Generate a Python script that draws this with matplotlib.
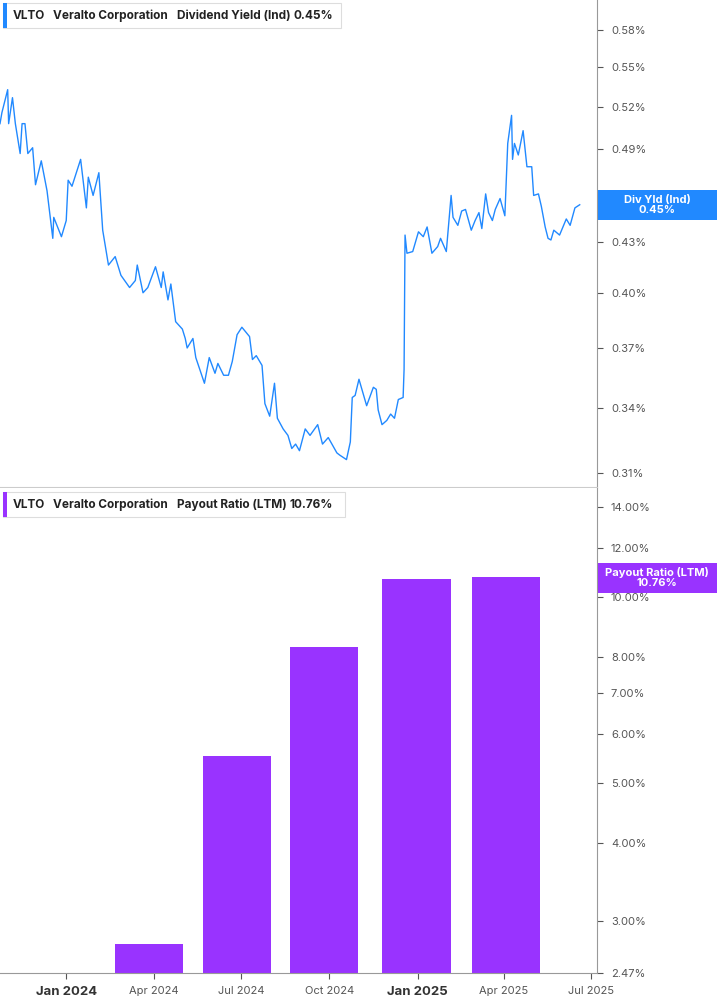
import matplotlib
matplotlib.use("Agg")
import matplotlib.pyplot as plt
import matplotlib.dates as mdates
import matplotlib.ticker as mticker
import pandas as pd
import numpy as np

# Dividend yield (%) ; dates as day offsets from 2024-01-01
DAY_OFFSETS = [-69,-67,-61,-60,-56,-53,-48,-46,-43,-40,-35,-32,-26,-20,-14,-13,-5,0,2,6,15,21,23,28,34,38,44,51,57,66,72,74,80,85,93,99,101,106,109,114,121,124,126,132,135,144,149,155,158,164,169,173,178,183,191,194,198,204,207,212,217,220,226,231,235,239,243,249,254,262,267,273,282,285,292,296,298,301,305,313,320,323,325,329,334,338,342,346,351,352,353,355,361,367,372,376,381,387,390,396,401,403,408,412,416,422,426,430,433,437,440,444,447,452,457,460,464,465,467,471,476,480,485,487,492,495,499,502,505,508,514,521,525,530,535]
DIV_YIELD = [0.508,0.516,0.533,0.508,0.527,0.508,0.487,0.508,0.508,0.487,0.491,0.466,0.482,0.462,0.432,0.445,0.433,0.443,0.469,0.465,0.483,0.451,0.471,0.459,0.474,0.437,0.416,0.421,0.410,0.403,0.407,0.416,0.400,0.403,0.415,0.403,0.412,0.396,0.405,0.384,0.380,0.375,0.370,0.375,0.365,0.352,0.365,0.357,0.362,0.356,0.356,0.363,0.377,0.381,0.376,0.364,0.366,0.361,0.342,0.336,0.352,0.335,0.330,0.327,0.321,0.323,0.320,0.330,0.327,0.332,0.323,0.326,0.319,0.318,0.316,0.324,0.345,0.346,0.354,0.341,0.350,0.349,0.339,0.332,0.334,0.337,0.335,0.344,0.345,0.359,0.434,0.423,0.424,0.436,0.433,0.439,0.423,0.427,0.432,0.424,0.459,0.445,0.440,0.449,0.450,0.437,0.443,0.448,0.438,0.460,0.448,0.443,0.450,0.457,0.446,0.494,0.514,0.483,0.494,0.486,0.503,0.478,0.478,0.459,0.460,0.452,0.439,0.432,0.431,0.437,0.434,0.444,0.440,0.451,0.453]

BAR_DATES = ["2024-03-27","2024-06-27","2024-09-26","2024-12-31","2025-04-03"]
PAYOUT = [2.75, 5.54, 8.30, 10.69, 10.76]

YIELD_TICKS = [0.31,0.34,0.37,0.40,0.43,0.49,0.52,0.55,0.58]
PAYOUT_TICKS = [2.47,3.0,4.0,5.0,6.0,7.0,8.0,10.0,12.0,14.0]
X_TICKS = ["2024-01-01","2024-04-01","2024-07-01","2024-10-01","2025-01-01","2025-04-01","2025-07-01"]
X_LABELS = ["Jan 2024","Apr 2024","Jul 2024","Oct 2024","Jan 2025","Apr 2025","Jul 2025"]

plt.rcParams["font.family"] = "Inter"
BLUE = "#2189ff"
PURPLE = "#9933ff"
GRAY = "#555555"

W, H = 717, 1005
fig = plt.figure(figsize=(W/100, H/100), dpi=100)
axR = 597
ax1 = fig.add_axes([0, 1-487/H, axR/W, 487/H])
ax2 = fig.add_axes([0, 1-973/H, axR/W, (973-488)/H])

dates = pd.Timestamp("2024-01-01") + pd.to_timedelta(DAY_OFFSETS, unit="D")
xmin = pd.Timestamp("2023-10-24"); xmax = pd.Timestamp("2025-07-07")

ax1.plot(dates, DIV_YIELD, color=BLUE, lw=1.0)
ax1.set_yscale("log")
ax1.set_ylim(0.304, 0.605)
for ax in (ax1, ax2):
    ax.set_xlim(xmin, xmax)
    ax.yaxis.tick_right()
    for s in ["top", "left"]:
        ax.spines[s].set_visible(False)
    ax.spines["right"].set_color("#999999")
    ax.tick_params(axis="y", which="both", labelsize=8, colors=GRAY, length=4, pad=6)
    ax.yaxis.set_minor_locator(mticker.NullLocator())
ax1.spines["bottom"].set_color("#cccccc")
ax1.set_yticks(YIELD_TICKS)
ax1.set_yticklabels([f"{t:.2f}%" for t in YIELD_TICKS])
ax1.set_xticks([])

bd = pd.to_datetime(BAR_DATES)
ax2.bar(bd, PAYOUT, width=71, color=PURPLE, bottom=0)
ax2.set_yscale("log")
ax2.set_ylim(2.47, 15.0)
ax2.set_yticks(PAYOUT_TICKS)
ax2.set_yticklabels([f"{t:.2f}%" for t in PAYOUT_TICKS])
ax2.yaxis.set_minor_locator(mticker.NullLocator())
ax2.spines["bottom"].set_color("#999999")
ax2.set_xticks(pd.to_datetime(X_TICKS))
ax2.set_xticklabels(X_LABELS)
ax2.tick_params(axis="x", colors=GRAY, length=4, pad=5)
for lbl in ax2.get_xticklabels():
    if lbl.get_text().startswith("Jan"):
        lbl.set_fontweight("bold"); lbl.set_fontsize(9.5); lbl.set_color("#333333")
    else:
        lbl.set_fontsize(8)

# legend boxes
def legend(y, color, parts, x1):
    fig.patches.append(plt.Rectangle((3/W, 1-(y+12)/H), 338/W if x1 is None else x1/W, 25/H,
                       transform=fig.transFigure, fc="white", ec="#dddddd", lw=0.8))
    fig.patches.append(plt.Rectangle((3/W, 1-(y+12)/H), 4/W, 25/H,
                       transform=fig.transFigure, fc=color, ec="none"))
    for x, t in parts:
        fig.text(x/W, 1-y/H, t, fontsize=8.5, fontweight="bold", color="#222222", va="center")

legend(16, BLUE, [(13, "VLTO"), (53, "Veralto Corporation"), (177, "Dividend Yield (Ind)"), (293, "0.45%")], 338)
legend(505, PURPLE, [(13, "VLTO"), (53, "Veralto Corporation"), (177, "Payout Ratio (LTM)"), (289, "10.76%")], 342)

# right value labels
def vlabel(y0, y1, color, lines):
    fig.patches.append(plt.Rectangle((598/W, 1-y1/H), 119/W, (y1-y0)/H,
                       transform=fig.transFigure, fc=color, ec="none"))
    fig.text(657/W, 1-(y0+y1)/2/H, lines, fontsize=8, fontweight="bold", color="white",
             ha="center", va="center", linespacing=1.0)

vlabel(190, 220, BLUE, "Div Yld (Ind)\n0.45%")
vlabel(563, 593, PURPLE, "Payout Ratio (LTM)\n10.76%")

fig.savefig("out.png", dpi=100)
